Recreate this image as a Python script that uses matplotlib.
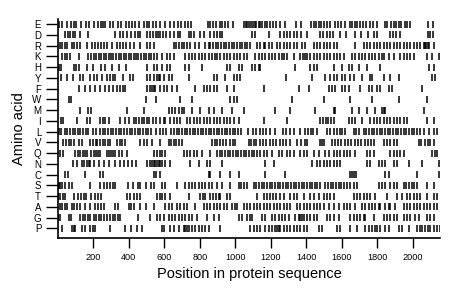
import matplotlib
matplotlib.use("Agg")
import matplotlib.pyplot as plt

plt.rcParams['font.family'] = ['Liberation Sans', 'DejaVu Sans']

amino_acids = ["E", "D", "R", "K", "H", "Y", "F", "W", "M", "I",
               "L", "V", "Q", "N", "C", "S", "T", "A", "G", "P"]

x_ticks = [200, 400, 600, 800, 1000, 1200, 1400, 1600, 1800, 2000]

pos_E = [2, 6, 24, 52, 75, 88, 103, 131, 159, 174, 202, 225, 240, 253, 268, 291, 310, 338, 353, 381, 400,
         419, 436, 456, 483, 501, 516, 535, 554, 577, 601, 629, 652, 676, 695, 714, 733, 751,
         845, 859, 874, 892, 911, 924, 939, 958, 986,
         1048, 1058, 1067, 1077, 1090, 1099, 1109, 1118, 1131, 1141, 1152, 1165, 1178, 1193, 1212, 1231, 1253, 1278,
         1344, 1372, 1428, 1441, 1456, 1471, 1485, 1500, 1517, 1532, 1560, 1579, 1597, 1616,
         1644, 1659, 1673, 1688, 1705, 1720, 1738, 1757, 1776, 1799,
         1842, 1855, 1876, 1893, 1908, 1923, 1936, 1955, 1968, 1983, 2086, 2114]
pos_D = [41, 56, 69, 84, 97, 125, 170, 323, 347, 366, 390, 413, 432, 451, 464, 503, 520, 535, 550, 563, 577,
         592, 610, 629, 652, 676, 689, 736, 751, 765, 802, 821, 859, 877, 896, 911, 924, 1094, 1112, 1188,
         1253, 1272, 1291, 1310, 1329, 1347, 1372, 1404, 1475, 1494, 1517, 1532, 1550, 1588, 1626, 1673,
         1710, 1748, 1780, 1799, 1870, 1889, 1908, 1926, 2086, 2099, 2114]
pos_R = [9, 24, 37, 50, 78, 93, 108, 125, 163, 191, 208, 225, 242, 259, 276, 304, 332, 347, 366, 385, 407,
         426, 464, 501, 520, 539, 652, 667, 682, 697, 712, 727, 746, 774, 793, 830, 849, 859, 874, 889, 904,
         919, 934, 949, 964, 979, 994, 1009, 1024, 1039, 1054, 1065, 1084, 1122, 1141, 1159, 1169, 1188,
         1206, 1235, 1253, 1272, 1291, 1310, 1329, 1347, 1376, 1394, 1441, 1460, 1479, 1498, 1517, 1535,
         1554, 1573, 1676, 1723, 1742, 1761, 1780, 1799, 1817, 1836, 1855, 1874, 1893, 1911, 1930, 1949,
         1968, 1987, 2005, 2024, 2043, 2062, 2069, 2077, 2084, 2090, 2118]
pos_K = [22, 37, 52, 69, 116, 172, 187, 201, 216, 229, 244, 257, 272, 285, 300, 313, 328, 342, 357, 370,
         385, 398, 413, 426, 441, 454, 469, 483, 498, 511, 526, 539, 558, 586, 614, 633, 652, 718, 736, 755,
         774, 793, 812, 830, 849, 868, 887, 896, 915, 934, 953, 971, 990, 1009, 1028, 1047, 1065, 1112,
         1131, 1150, 1169, 1188, 1206, 1225, 1244, 1263, 1272, 1291, 1329, 1366, 1381, 1394, 1404, 1423,
         1441, 1460, 1479, 1498, 1517, 1535, 1554, 1573, 1592, 1611, 1658, 1676, 1695, 1714, 1733, 1752,
         1770, 1789, 1808, 1827, 1836, 1864, 1893, 1930, 1949, 1968, 1987, 2005, 2081, 2109, 2146]
pos_H = [1, 4, 16, 88, 103, 118, 163, 197, 242, 268, 304, 343, 385, 501, 539, 558, 586, 614, 633, 718, 736,
         812, 953, 971, 1018, 1037, 1094, 1112, 1131, 1141, 1338, 1423, 1441, 1460, 1554, 1601, 1639, 1658,
         1695, 1742, 1817, 2090, 2118]
pos_Y = [16, 50, 84, 125, 140, 182, 201, 219, 248, 276, 295, 313, 323, 366, 407, 422, 501, 520, 539, 558,
         567, 577, 595, 624, 642, 736, 877, 896, 943, 990, 1009, 1028, 1287, 1432, 1507, 1535, 1554, 1573,
         1601, 1620, 1648, 1667, 1714, 1761, 1770, 1836, 1874, 1921, 2109, 2128]
pos_F = [116, 154, 182, 210, 238, 266, 285, 313, 332, 347, 366, 379, 501, 520, 530, 539, 548, 577, 595, 614,
         642, 671, 774, 821, 840, 859, 877, 896, 953, 990, 1159, 1357, 1413, 1526, 1545, 1564, 1601, 1620,
         1639, 1705, 1752, 1770, 1799, 1817, 1864, 1883, 2052]
pos_W = [61, 75, 498, 554, 689, 755, 971, 990, 1009, 1319, 1498, 1648, 1770, 1921, 2081]
pos_M = [125, 172, 186, 389, 483, 624, 642, 661, 680, 699, 708, 755, 802, 849, 877, 924, 981, 1047, 1225,
         1306, 1451, 1554, 1564, 1658, 1695, 1742, 1789, 1827, 1836, 1846, 2062]
pos_I = [16, 31, 107, 163, 178, 238, 253, 268, 285, 351, 379, 398, 426, 441, 456, 471, 486, 501, 516, 535,
         554, 577, 595, 605, 633, 652, 671, 689, 727, 746, 765, 783, 802, 821, 840, 859, 877, 896, 915, 934,
         953, 971, 990, 1018, 1159, 1291, 1479, 1494, 1509, 1524, 1539, 1554, 1639, 1658, 1676, 1714, 1761,
         1780, 1799, 1817, 1836, 1855, 1874, 1893, 1911, 1930, 1949, 1968, 2081, 2118]
pos_L = [4, 18, 37, 52, 67, 82, 97, 112, 127, 142, 157, 172, 197, 216, 238, 253, 268, 283, 298, 313, 328,
         343, 358, 374, 389, 404, 419, 434, 449, 464, 479, 494, 509, 524, 554, 573, 592, 610, 639, 654, 669,
         684, 699, 714, 729, 744, 759, 774, 789, 804, 819, 834, 849, 864, 879, 894, 909, 924, 939, 954, 969,
         985, 1000, 1015, 1030, 1071, 1099, 1118, 1137, 1156, 1174, 1193, 1221, 1268, 1287, 1306, 1329,
         1366, 1394, 1409, 1424, 1439, 1460, 1517, 1535, 1554, 1573, 1588, 1603, 1620, 1667, 1682, 1695,
         1723, 1738, 1753, 1768, 1784, 1799, 1814, 1829, 1844, 1859, 1874, 1889, 1904, 1919, 1934, 1949,
         1964, 1979, 1994, 2009, 2024, 2039, 2062, 2090, 2118, 2137]
pos_V = [31, 46, 61, 76, 88, 116, 135, 182, 197, 212, 219, 238, 253, 268, 281, 295, 332, 347, 362, 379, 464,
         483, 501, 530, 577, 624, 639, 652, 667, 682, 699, 868, 883, 896, 911, 930, 949, 968, 986, 1000,
         1075, 1090, 1103, 1118, 1137, 1156, 1174, 1193, 1212, 1231, 1250, 1268, 1287, 1310, 1347, 1372,
         1391, 1404, 1475, 1488, 1498, 1545, 1560, 1579, 1597, 1616, 1635, 1654, 1673, 1691, 1710, 1729,
         1748, 1767, 1780, 1836, 1855, 1874, 1893, 1911, 2034, 2049, 2067, 2086, 2099, 2118]
pos_Q = [13, 28, 97, 112, 125, 140, 154, 163, 186, 204, 216, 227, 238, 276, 287, 300, 311, 323, 342, 360,
         389, 539, 558, 577, 586, 605, 708, 727, 746, 765, 783, 812, 859, 896, 911, 926, 941, 956, 971, 986,
         1001, 1016, 1032, 1047, 1062, 1077, 1092, 1107, 1122, 1141, 1159, 1178, 1206, 1244, 1263, 1291,
         1310, 1329, 1366, 1385, 1404, 1441, 1470, 1507, 1526, 1554, 1573, 1592, 1611, 1629, 1648, 1676,
         1742, 1761, 1780, 1874, 1893, 1911, 1930, 1949, 2109, 2124, 2139]
pos_N = [84, 110, 135, 148, 163, 174, 182, 201, 229, 257, 285, 323, 351, 374, 394, 417, 441, 501, 520, 530,
         539, 548, 558, 567, 577, 586, 605, 633, 746, 793, 840, 859, 924, 1169, 1216, 1432, 1460, 1479,
         1498, 1517, 1535, 1554, 1573, 1592, 1742, 1761, 1808, 1827, 1846, 1893, 1911, 1977, 2052, 2146]
pos_C = [41, 56, 154, 238, 253, 539, 554, 577, 849, 859, 915, 971, 1018, 1169, 1282, 1648, 1659, 1671, 1682,
         1846, 1864, 2024, 2146]
pos_S = [1, 5, 13, 22, 41, 60, 78, 182, 238, 257, 276, 295, 313, 323, 394, 422, 451, 464, 494, 526, 539,
         586, 605, 671, 718, 736, 755, 774, 793, 812, 830, 849, 868, 896, 924, 971, 1018, 1033, 1047, 1065,
         1103, 1118, 1133, 1148, 1163, 1178, 1193, 1208, 1223, 1238, 1253, 1268, 1283, 1298, 1314, 1329,
         1344, 1359, 1374, 1389, 1404, 1419, 1434, 1449, 1460, 1479, 1507, 1522, 1537, 1552, 1567, 1582,
         1597, 1612, 1627, 1648, 1667, 1686, 1808, 1827, 1846, 1874, 1893, 1911, 1949, 1964, 1979, 1994,
         2009, 2024, 2081, 2118]
pos_T = [1, 13, 28, 41, 93, 112, 131, 144, 159, 187, 206, 225, 244, 389, 407, 426, 445, 464, 558, 573, 588,
         605, 629, 736, 802, 817, 830, 859, 874, 889, 906, 915, 953, 971, 1122, 1159, 1178, 1197, 1212,
         1231, 1250, 1272, 1310, 1329, 1347, 1385, 1423, 1441, 1470, 1498, 1517, 1535, 1554, 1667, 1686,
         1705, 1723, 1742, 1761, 1789, 1855, 1911, 1940, 1968, 1987, 2005, 2024, 2043, 2081, 2118, 2137]
pos_A = [9, 22, 37, 50, 78, 93, 108, 125, 154, 182, 210, 225, 240, 257, 323, 336, 398, 413, 426, 464, 498,
         539, 605, 624, 642, 671, 689, 708, 727, 774, 821, 840, 859, 877, 896, 915, 934, 953, 981, 1000,
         1009, 1047, 1065, 1084, 1103, 1122, 1141, 1159, 1178, 1197, 1216, 1235, 1253, 1272, 1291, 1310,
         1347, 1366, 1385, 1404, 1423, 1441, 1460, 1479, 1498, 1526, 1554, 1582, 1611, 1629, 1648, 1676,
         1714, 1733, 1752, 1770, 1789, 1808, 1817, 1846, 1864, 1874, 1902, 1949, 1968, 1987, 2005, 2024,
         2043, 2062, 2081, 2099, 2118, 2137]
pos_G = [1, 3, 9, 60, 73, 125, 140, 154, 169, 182, 201, 216, 229, 244, 257, 276, 295, 310, 323, 338, 351,
         451, 520, 558, 577, 595, 624, 642, 661, 680, 699, 718, 736, 755, 783, 840, 877, 906, 1018, 1037,
         1065, 1084, 1094, 1150, 1169, 1206, 1225, 1244, 1263, 1282, 1300, 1338, 1357, 1366, 1376, 1385,
         1404, 1423, 1441, 1460, 1517, 1535, 1554, 1582, 1648, 1667, 1686, 1705, 1723, 1733, 1780, 1836,
         1855, 1874, 1893, 1911, 1949, 1968, 1987, 2015, 2034, 2081, 2099, 2118]
pos_P = [22, 78, 88, 97, 135, 154, 182, 197, 210, 295, 379, 413, 445, 473, 586, 595, 633, 652, 680, 708,
         718, 727, 736, 755, 774, 793, 812, 830, 849, 915, 1084, 1103, 1122, 1141, 1169, 1188, 1206, 1225,
         1235, 1244, 1253, 1272, 1291, 1310, 1329, 1347, 1366, 1385, 1404, 1470, 1488, 1573, 1592, 1648,
         1686, 1733, 1752, 1770, 1785, 1799, 1817, 1846, 1864, 1921, 1940, 1977, 2024, 2039, 2054, 2069,
         2084, 2099, 2118, 2137, 2152]

positions = [pos_E, pos_D, pos_R, pos_K, pos_H, pos_Y, pos_F, pos_W, pos_M, pos_I,
             pos_L, pos_V, pos_Q, pos_N, pos_C, pos_S, pos_T, pos_A, pos_G, pos_P]

fig = plt.figure(figsize=(4.6, 2.99), dpi=100)
ax = fig.add_axes([0.126, 0.204, 0.831, 0.7324])

n = len(amino_acids)
row_y = [n - 1 - i for i in range(n)]
for y, pos in zip(row_y, positions):
    ax.vlines(pos, y - 0.32, y + 0.32, colors='black', linewidth=1.1)

ax.set_xlim(0, 2155)
ax.set_ylim(-0.9, n - 1 + 0.47)
ax.set_yticks(row_y)
ax.set_yticklabels(amino_acids, fontsize=7)
ax.set_xticks(x_ticks)
ax.set_xticklabels([str(t) for t in x_ticks], fontsize=6.6)

for s in ['top', 'right']:
    ax.spines[s].set_visible(False)
for s in ['left', 'bottom']:
    ax.spines[s].set_linewidth(1.2)
ax.tick_params(axis='y', length=8.6, width=1.0, pad=3.5)
ax.tick_params(axis='x', length=7.2, width=1.0, pad=3.5)

ax.set_xlabel("Position in protein sequence", fontsize=10.5, labelpad=4)
ax.set_ylabel("Amino acid", fontsize=10.5, labelpad=4)

fig.savefig("out.png", dpi=100)
